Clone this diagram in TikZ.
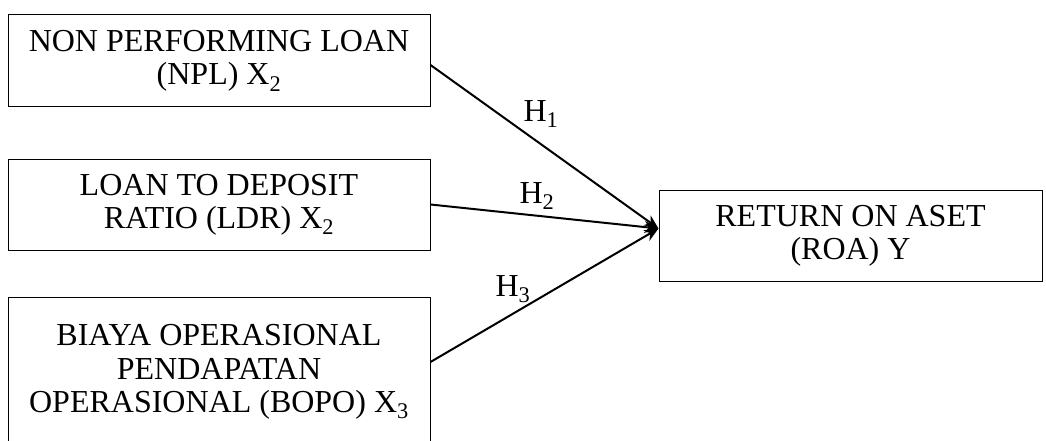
\documentclass[tikz,border=0pt]{standalone}
\usepackage{fontspec}
\setmainfont{Liberation Serif}
\usetikzlibrary{arrows.meta}

\tikzset{
    varbox/.style={draw, line width=1pt, minimum width=422pt, minimum height=92pt,
        inner sep=0pt, align=center, font=\fontsize{32}{33.3}\selectfont},
    hyp/.style={-{Stealth[length=14pt, width=12pt]}, line width=2pt},
    hlabel/.style={inner sep=0pt, font=\fontsize{32}{33.3}\selectfont}
}

\begin{document}
\begin{tikzpicture}[x=1pt, y=-1pt]
    \useasboundingbox (0,0) rectangle (1046,441);

    % --- Variabel X ---
    \node[varbox] (npl) at (219,61) {NON PERFORMING LOAN\\(NPL) X\textsubscript{2}};
    \node[varbox, minimum height=91pt] (ldr) at (219,204.5) {LOAN TO DEPOSIT\\RATIO (LDR) X\textsubscript{2}};
    \node[varbox, minimum height=150pt] (bopo) at (219,372) {BIAYA OPERASIONAL\\PENDAPATAN\\OPERASIONAL (BOPO) X\textsubscript{3}};

    % --- Variabel Y ---
    \node[varbox, minimum width=383pt, minimum height=91pt] (roa) at (850.5,235.5) {RETURN ON ASET\\(ROA) Y};
    \coordinate (tip) at ([yshift=7pt]roa.west);

    % --- Hipotesis ---
    \draw[hyp] ([yshift=-4pt]npl.east) -- (tip);
    \draw[hyp] (ldr.east) -- (tip);
    \draw[hyp] ([yshift=10pt]bopo.east) -- (tip);

    \node[hlabel] (h1) at (541,114) {H\textsubscript{1}};
    \node[hlabel] (h2) at (537,196) {H\textsubscript{2}};
    \node[hlabel] (h3) at (513,289) {H\textsubscript{3}};
\end{tikzpicture}
\end{document}
